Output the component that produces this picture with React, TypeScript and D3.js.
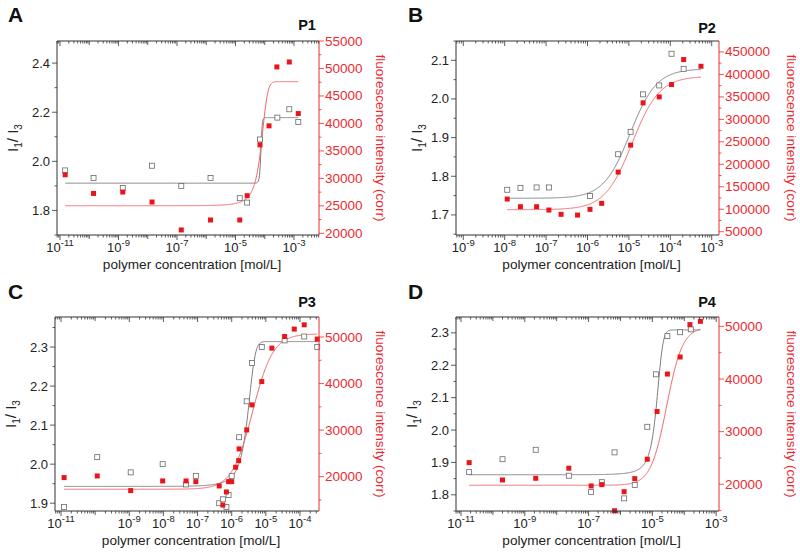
import React from 'react';
import * as d3 from 'd3';

const FONT = "'Liberation Sans', Arial, Helvetica, sans-serif";
const RED = '#ec2a30';
const RED_SQ = '#e8161c';
const RED_LINE = '#f06468';
const GRAY_SQ = '#6a6a6a';
const GRAY_LINE = '#7c7c7c';
const AXIS = '#333333';

// ---------- Panel A (P1) ----------
const A_I_conc = [1.5e-11, 1.4e-10, 1.4e-9, 1.4e-8, 1.4e-7, 1.4e-6, 1.4e-5, 2.5e-5, 6.9e-5, 2.7e-4, 6.9e-4, 1.4e-3];
const A_I_ratio = [1.963, 1.932, 1.891, 1.982, 1.9, 1.932, 1.85, 1.832, 2.089, 2.178, 2.212, 2.16];
const A_F_conc = [1.5e-11, 1.4e-10, 1.4e-9, 1.4e-8, 1.4e-7, 1.4e-6, 1.4e-5, 2.5e-5, 6.9e-5, 1.4e-4, 2.6e-4, 6.9e-4, 1.4e-3];
const A_F_int = [30660, 27265, 27520, 25700, 20620, 22430, 22430, 26850, 36100, 39560, 50280, 51180, 41800];
const A_fitI = { mode: 'lin', base: 1.911, top: 2.178, c0: 7.4e-5, w: 4e-6 };
const A_fitF = { mode: 'lin', base: 25030, top: 47600, c0: 7.5e-5, w: 2.2e-5 };
const A_xLabels = [-11, -9, -7, -5, -3];
const A_leftTicks = [1.8, 2.0, 2.2, 2.4];
const A_rightTicks = [20000, 25000, 30000, 35000, 40000, 45000, 50000, 55000];

// ---------- Panel B (P2) ----------
const B_I_conc = [1.15e-8, 2.4e-8, 5.9e-8, 1.17e-7, 1.15e-6, 5.5e-6, 1.1e-5, 2.2e-5, 5.4e-5, 1.07e-4, 2.1e-4];
const B_I_ratio = [1.765, 1.77, 1.771, 1.771, 1.749, 1.857, 1.915, 2.012, 2.035, 2.117, 2.078];
const B_F_conc = [1.15e-8, 2.4e-8, 5.9e-8, 1.17e-7, 2.3e-7, 5.75e-7, 1.15e-6, 2.2e-6, 5.5e-6, 1.1e-5, 2.2e-5, 5.4e-5, 1.07e-4, 2.1e-4, 5.5e-4];
const B_F_int = [122700, 105600, 105600, 98200, 88700, 87100, 99800, 113100, 182700, 242700, 336700, 350000, 377500, 433100, 418200];
const B_fitI = { mode: 'log', base: 1.743, top: 2.078, c0: 1.07e-5, w: 0.32 };
const B_fitF = { mode: 'log', base: 99000, top: 396000, c0: 1.2e-5, w: 0.33 };
const B_xLabels = [-9, -8, -7, -6, -5, -4, -3];
const B_leftTicks = [1.7, 1.8, 1.9, 2.0, 2.1];
const B_rightTicks = [50000, 100000, 150000, 200000, 250000, 300000, 350000, 400000, 450000];

// ---------- Panel C (P3) ----------
const C_I_conc = [1.23e-11, 1.15e-10, 1.1e-9, 9.5e-9, 4.6e-8, 8.9e-8, 4.3e-7, 5.5e-7, 7e-7, 8.1e-7, 1.0e-6, 1.65e-6, 2.75e-6, 3.9e-6, 7.6e-6, 3.55e-5, 1.33e-4, 3.2e-4];
const C_I_ratio = [1.89, 2.018, 1.979, 2.0, 1.948, 1.97, 1.9, 1.91, 1.89, 1.921, 1.97, 2.069, 2.161, 2.259, 2.3, 2.317, 2.327, 2.3];
const C_F_conc = [1.23e-11, 1.15e-10, 1.1e-9, 9.5e-9, 4.6e-8, 8.9e-8, 4.3e-7, 5.5e-7, 7e-7, 8.1e-7, 1.0e-6, 1.3e-6, 1.6e-6, 1.65e-6, 2.75e-6, 3.9e-6, 7.6e-6, 1.5e-5, 3.55e-5, 6.8e-5, 1.33e-4, 3.2e-4];
const C_F_int = [19800, 20150, 17000, 19080, 19080, 18930, 18000, 13900, 16710, 18930, 18930, 22020, 23440, 25960, 30040, 35420, 40430, 47610, 50110, 51700, 52620, 49550];
const C_fitI = { mode: 'lin', base: 1.943, top: 2.314, c0: 2.9e-6, w: 8.5e-7 };
const C_fitF = { mode: 'log', base: 17290, top: 50690, c0: 4.1e-6, w: 0.3 };
const C_xLabels = [-11, -9, -8, -7, -6, -5, -4];
const C_leftTicks = [1.9, 2.0, 2.1, 2.2, 2.3];
const C_rightTicks = [20000, 30000, 40000, 50000];

// ---------- Panel D (P4) ----------
const D_I_conc = [1.8e-11, 2.0e-10, 2.2e-9, 2.4e-8, 1.2e-7, 2.6e-7, 6.5e-7, 1.3e-6, 2.8e-6, 6.9e-6, 1.3e-5, 2.95e-5, 7.4e-5, 1.6e-4];
const D_I_ratio = [1.87, 1.91, 1.939, 1.859, 1.809, 1.839, 1.931, 1.789, 1.83, 2.01, 2.172, 2.29, 2.302, 2.311];
const D_F_conc = [1.8e-11, 2.0e-10, 2.2e-9, 2.4e-8, 1.2e-7, 2.6e-7, 6.5e-7, 1.3e-6, 2.8e-6, 6.9e-6, 1.4e-5, 2.95e-5, 7.4e-5, 1.5e-4, 3.2e-4];
const D_F_int = [24110, 20820, 21140, 23050, 19680, 19930, 14970, 18590, 21070, 24760, 33830, 40950, 44190, 50340, 50970];
const D_fitI = { mode: 'lin', base: 1.862, top: 2.309, c0: 1.35e-5, w: 3.5e-6 };
const D_fitF = { mode: 'log', base: 19810, top: 49900, c0: 2.8e-5, w: 0.25 };
const D_xLabels = [-11, -9, -7, -5, -3];
const D_leftTicks = [1.8, 1.9, 2.0, 2.1, 2.2, 2.3];
const D_rightTicks = [20000, 30000, 40000, 50000];

const PANELS = [
  { letter: 'A', title: 'P1', ox: 0, oy: 0, l: 57, r: 319, t: 41, b: 235, xd: [-11.103, -2.145], yL: [1.70, 2.49], yR: [19700, 55000],
    Ic: A_I_conc, Iv: A_I_ratio, Fc: A_F_conc, Fv: A_F_int, fitI: A_fitI, fitF: A_fitF, xl: A_xLabels, lt: A_leftTicks, rt: A_rightTicks, rtStep: 5000, ltStep: 0.2,
    leftTitleX: 18, rightTitleX: 376, titleY: 30 },
  { letter: 'B', title: 'P2', ox: 400, oy: 0, l: 456, r: 719, t: 41, b: 235, xd: [-9.176, -2.824], yL: [1.648, 2.15], yR: [42700, 474400],
    Ic: B_I_conc, Iv: B_I_ratio, Fc: B_F_conc, Fv: B_F_int, fitI: B_fitI, fitF: B_fitF, xl: B_xLabels, lt: B_leftTicks, rt: B_rightTicks, rtStep: 50000, ltStep: 0.1,
    leftTitleX: 22, rightTitleX: 387, titleY: 33 },
  { letter: 'C', title: 'P3', ox: 0, oy: 277, l: 55, r: 319, t: 317, b: 511, xd: [-11.176, -3.443], yL: [1.88, 2.377], yR: [12620, 54300],
    Ic: C_I_conc, Iv: C_I_ratio, Fc: C_F_conc, Fv: C_F_int, fitI: C_fitI, fitF: C_fitF, xl: C_xLabels, lt: C_leftTicks, rt: C_rightTicks, rtStep: 10000, ltStep: 0.1,
    leftTitleX: 16, rightTitleX: 376, titleY: 307 },
  { letter: 'D', title: 'P4', ox: 400, oy: 277, l: 456, r: 719, t: 317, b: 511, xd: [-11.157, -2.912], yL: [1.75, 2.349], yR: [14920, 51790],
    Ic: D_I_conc, Iv: D_I_ratio, Fc: D_F_conc, Fv: D_F_int, fitI: D_fitI, fitF: D_fitF, xl: D_xLabels, lt: D_leftTicks, rt: D_rightTicks, rtStep: 10000, ltStep: 0.1,
    leftTitleX: 17, rightTitleX: 387, titleY: 307 },
];

const sig = (t: number) => 1 / (1 + Math.exp(-t));

function fitValue(c: number, f: any) {
  let g: number;
  if (f.mode === 'lin') {
    const f0 = sig(-f.c0 / f.w);
    g = (sig((c - f.c0) / f.w) - f0) / (1 - f0);
  } else {
    g = sig((Math.log10(c) - Math.log10(f.c0)) / f.w);
  }
  return f.base + (f.top - f.base) * g;
}

function Panel({ p }: { p: any }) {
  const x = d3.scaleLog().domain([10 ** p.xd[0], 10 ** p.xd[1]]).range([p.l, p.r]);
  const yL = d3.scaleLinear().domain(p.yL).range([p.b, p.t]);
  const yR = d3.scaleLinear().domain(p.yR).range([p.b, p.t]);

  const allC = [...p.Ic, ...p.Fc];
  const lo = Math.log10(d3.min(allC) as number);
  const hi = Math.log10(d3.max(allC) as number);
  const N = 600;
  const samples = d3.range(N + 1).map((i) => 10 ** (lo + ((hi - lo) * i) / N));

  const lineI = d3.line<number>().x((c) => x(c)).y((c) => yL(fitValue(c, p.fitI)));
  const lineF = d3.line<number>().x((c) => x(c)).y((c) => yR(fitValue(c, p.fitF)));

  const xTicks: { v: number; kind: number }[] = [];
  for (let k = Math.floor(p.xd[0]); k <= Math.ceil(p.xd[1]); k++) {
    for (let m = 1; m <= 9; m++) {
      const v = m * 10 ** k;
      const lv = Math.log10(v);
      if (lv < p.xd[0] - 1e-9 || lv > p.xd[1] + 1e-9) continue;
      const kind = m === 1 ? (p.xl.includes(k) ? 2 : 1) : 0;
      xTicks.push({ v, kind });
    }
  }
  const tickLen = (kind: number) => (kind === 2 ? 5 : kind === 1 ? 4 : 2.5);

  const lMinor: number[] = [];
  for (let i = 0; i < p.lt.length + 1; i++) {
    const v = p.lt[0] + (i - 0.5) * p.ltStep;
    if (v >= p.yL[0] && v <= p.yL[1]) lMinor.push(v);
  }
  const rMinor: number[] = [];
  for (let i = 0; i < p.rt.length + 1; i++) {
    const v = p.rt[0] + (i - 0.5) * p.rtStep;
    if (v >= p.yR[0] && v <= p.yR[1]) rMinor.push(v);
  }

  const cx = (p.l + p.r) / 2;
  const cy = (p.t + p.b) / 2;
  const sq = 5;

  return (
    <g>
      <text x={p.ox + 8} y={p.oy + 22} fontFamily={FONT} fontWeight="bold" fontSize={21} fill="#111">{p.letter}</text>
      <text x={p.r - 12} y={p.titleY} fontFamily={FONT} fontWeight="bold" fontSize={14.5} fill="#111" textAnchor="middle">{p.title}</text>

      <path d={lineI(samples) || ''} fill="none" stroke={GRAY_LINE} strokeWidth={1} />
      <path d={lineF(samples) || ''} fill="none" stroke={RED_LINE} strokeWidth={1} />

      {p.Ic.map((c: number, i: number) => (
        <rect key={'i' + i} x={x(c) - sq / 2} y={yL(p.Iv[i]) - sq / 2} width={sq} height={sq} fill="#fff" stroke={GRAY_SQ} strokeWidth={0.8} />
      ))}
      {p.Fc.map((c: number, i: number) => (
        <rect key={'f' + i} x={x(c) - sq / 2} y={yR(p.Fv[i]) - sq / 2} width={sq} height={sq} fill={RED_SQ} />
      ))}

      <line x1={p.l} x2={p.r} y1={p.t} y2={p.t} stroke={AXIS} strokeWidth={1} />
      <line x1={p.l} x2={p.r} y1={p.b} y2={p.b} stroke={AXIS} strokeWidth={1} />
      <line x1={p.l} x2={p.l} y1={p.t} y2={p.b} stroke={AXIS} strokeWidth={1} />
      <line x1={p.r} x2={p.r} y1={p.t} y2={p.b} stroke={RED} strokeWidth={1} />

      {xTicks.map((tk, i) => (
        <g key={'xt' + i}>
          <line x1={x(tk.v)} x2={x(tk.v)} y1={p.b} y2={p.b + tickLen(tk.kind)} stroke={AXIS} strokeWidth={0.8} />
          <line x1={x(tk.v)} x2={x(tk.v)} y1={p.t} y2={p.t + tickLen(tk.kind)} stroke={AXIS} strokeWidth={0.8} />
        </g>
      ))}
      {p.xl.map((k: number) => (
        <text key={'xl' + k} x={x(10 ** k)} y={p.b + 17} fontFamily={FONT} fontSize={13} fill="#222" textAnchor="middle">
          10<tspan dy={-6} fontSize={9.5}>{'-' + Math.abs(k)}</tspan>
        </text>
      ))}

      {p.lt.map((v: number) => (
        <g key={'lt' + v}>
          <line x1={p.l - 5} x2={p.l} y1={yL(v)} y2={yL(v)} stroke={AXIS} strokeWidth={0.8} />
          <text x={p.l - 7} y={yL(v) + 4.5} fontFamily={FONT} fontSize={13} fill="#222" textAnchor="end">{v.toFixed(1)}</text>
        </g>
      ))}
      {lMinor.map((v, i) => (
        <line key={'lm' + i} x1={p.l - 2.5} x2={p.l} y1={yL(v)} y2={yL(v)} stroke={AXIS} strokeWidth={0.8} />
      ))}

      {p.rt.map((v: number) => (
        <g key={'rt' + v}>
          <line x1={p.r} x2={p.r + 5} y1={yR(v)} y2={yR(v)} stroke={RED} strokeWidth={0.8} />
          <text x={p.r + 6} y={yR(v) + 4.5} fontFamily={FONT} fontSize={13.5} fill={RED}>{String(v)}</text>
        </g>
      ))}
      {rMinor.map((v, i) => (
        <line key={'rm' + i} x1={p.r} x2={p.r + 2.5} y1={yR(v)} y2={yR(v)} stroke={RED} strokeWidth={0.8} />
      ))}

      <text x={cx + 4} y={p.b + 34} fontFamily={FONT} fontSize={13.6} fill="#222" textAnchor="middle">polymer concentration [mol/L]</text>
      <text transform={`translate(${p.ox + p.leftTitleX},${cy}) rotate(-90)`} fontFamily={FONT} fontSize={15} fill="#222" textAnchor="middle">
        I<tspan dy={4} fontSize={10}>1</tspan><tspan dy={-4}>/ I</tspan><tspan dy={4} fontSize={10}>3</tspan>
      </text>
      <text transform={`translate(${p.ox + p.rightTitleX},${cy}) rotate(90)`} fontFamily={FONT} fontSize={13.6} fill={RED} textAnchor="middle">fluorescence intensity (corr)</text>
    </g>
  );
}

export default function App() {
  return (
    <svg width={800} height={557} style={{ position: 'absolute', left: 0, top: 0, background: '#fff' }}>
      <rect x={0} y={0} width={800} height={557} fill="#fff" />
      {PANELS.map((p) => (
        <Panel key={p.letter} p={p} />
      ))}
    </svg>
  );
}
